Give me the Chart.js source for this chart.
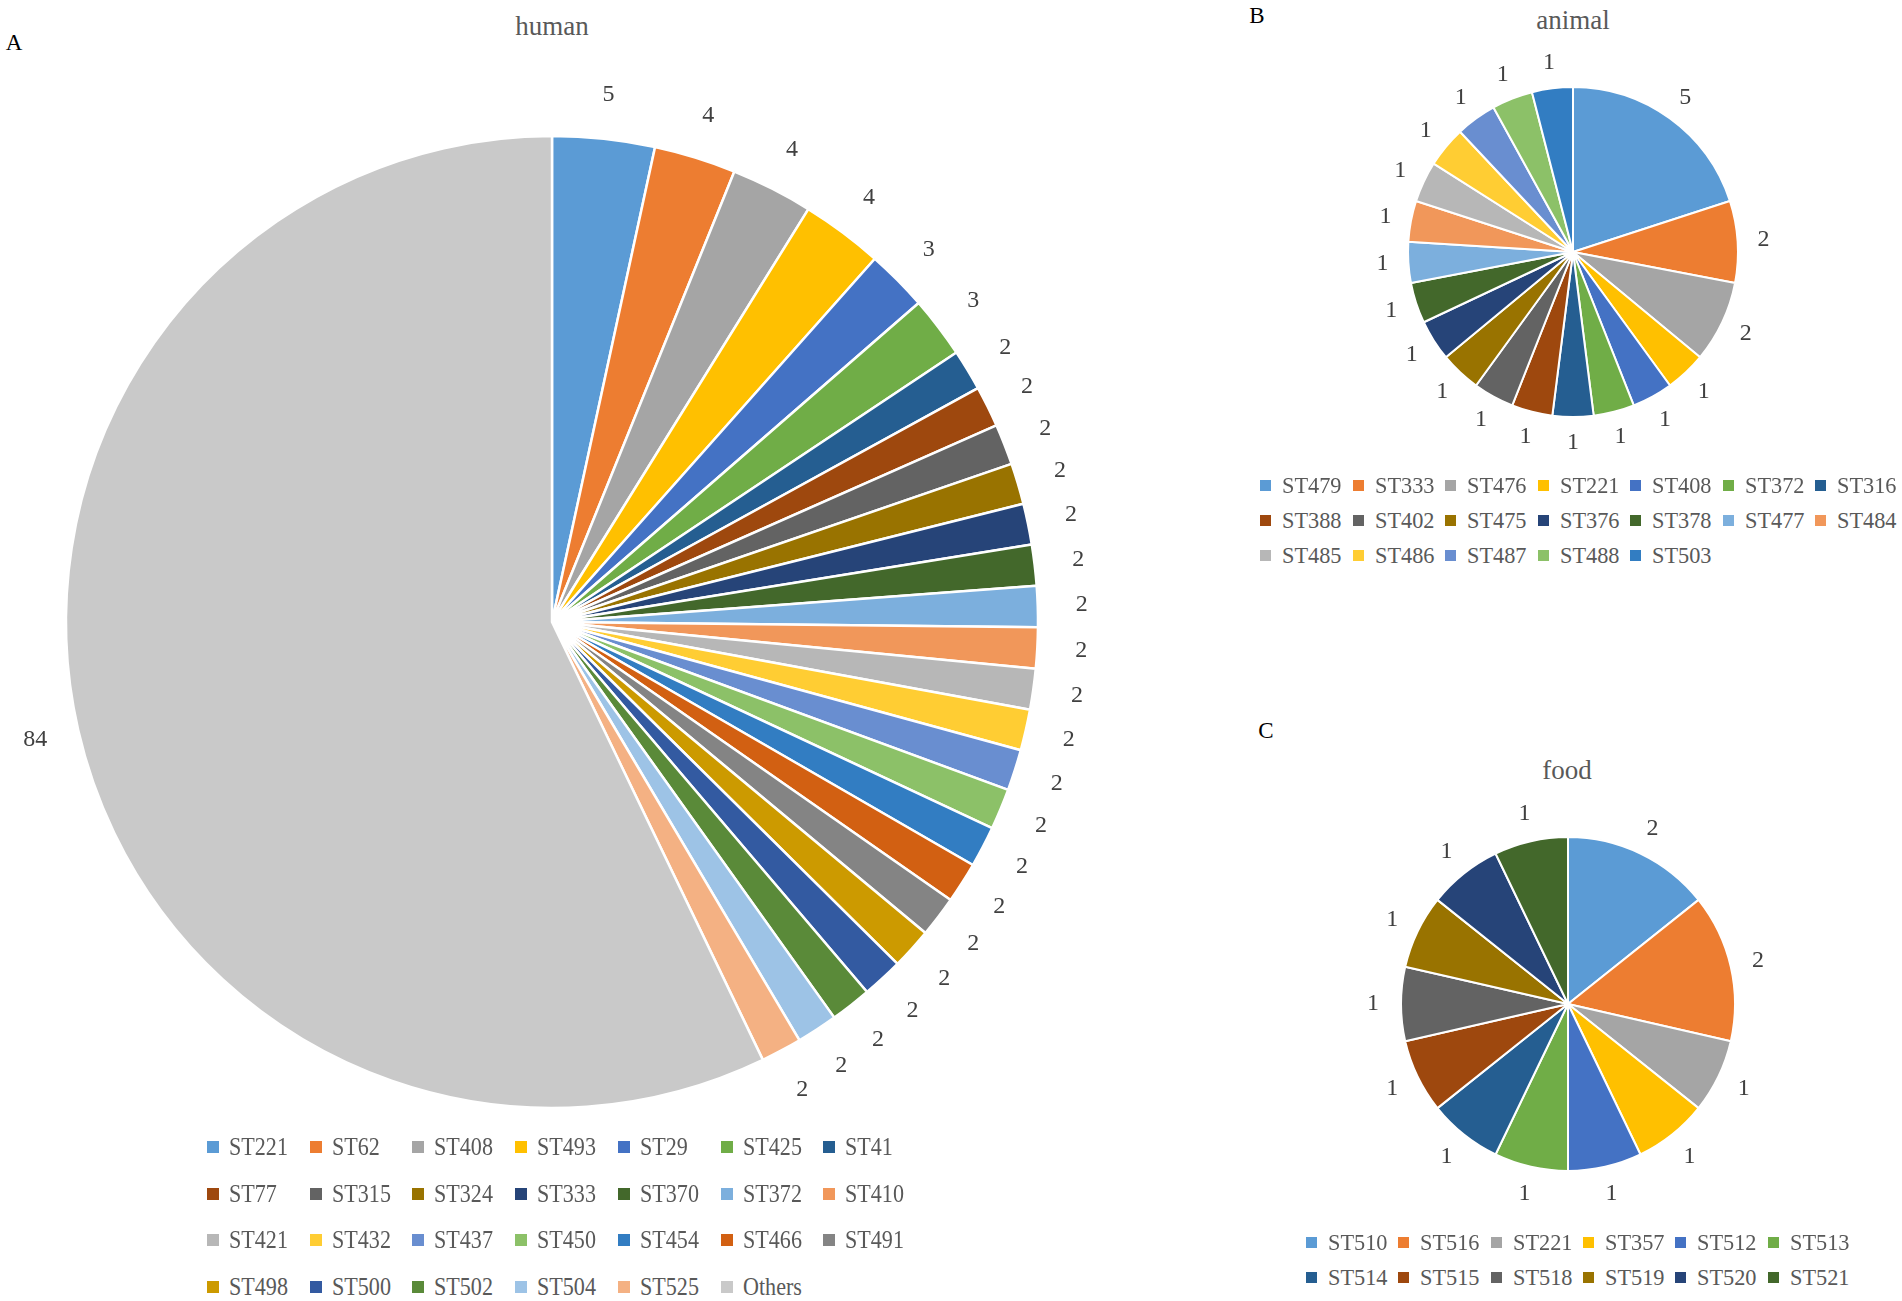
<!DOCTYPE html>
<html><head><meta charset="utf-8">
<script src="https://cdn.jsdelivr.net/npm/chart.js@4.4.0/dist/chart.umd.min.js"></script>
<style>
html,body{margin:0;padding:0;background:#fff;width:1902px;height:1301px;overflow:hidden;}
body,div,span{font-family:'Liberation Serif',serif;}
.txt{position:absolute;transform:translate(-50%,-50%);white-space:nowrap;line-height:1;}
.letter{font-size:23px;color:#000;}
.title{font-size:27px;color:#595959;}
.leg{position:absolute;color:#595959;white-space:nowrap;line-height:1;z-index:5;}
.leg i{position:absolute;left:0;}
.leg span{position:absolute;transform-origin:0 50%;}
canvas{position:absolute;}
</style></head><body>

<div class="txt letter" style="left:14px;top:42px">A</div>
<div class="txt letter" style="left:1257px;top:15px">B</div>
<div class="txt letter" style="left:1266px;top:730px">C</div>
<div class="txt title" style="left:552px;top:26px">human</div>
<div class="txt title" style="left:1573px;top:20px">animal</div>
<div class="txt title" style="left:1567px;top:770px">food</div>

<canvas id="cHuman" width="1104" height="1244" style="left:0px;top:0px;width:1104px;height:1244px"></canvas>
<canvas id="cAnimal" width="600" height="504" style="left:1273px;top:0px;width:600px;height:504px"></canvas>
<canvas id="cFood" width="600" height="500" style="left:1268px;top:754px;width:600px;height:500px"></canvas>
<div id="legends"></div>

<script>
// ---- data ----
const humanLabels = ['ST221','ST62','ST408','ST493','ST29','ST425','ST41','ST77','ST315','ST324','ST333','ST370','ST372','ST410','ST421','ST432','ST437','ST450','ST454','ST466','ST491','ST498','ST500','ST502','ST504','ST525','Others'];
const humanValues = [5,4,4,4,3,3,2,2,2,2,2,2,2,2,2,2,2,2,2,2,2,2,2,2,2,2,84];

const animalLabels = ['ST479','ST333','ST476','ST221','ST408','ST372','ST316','ST388','ST402','ST475','ST376','ST378','ST477','ST484','ST485','ST486','ST487','ST488','ST503'];
const animalValues = [5,2,2,1,1,1,1,1,1,1,1,1,1,1,1,1,1,1,1];

const foodLabels = ['ST510','ST516','ST221','ST357','ST512','ST513','ST514','ST515','ST518','ST519','ST520','ST521'];
const foodValues = [2,2,1,1,1,1,1,1,1,1,1,1];

// ---- style ----
const palette = [
  '#5B9BD5','#ED7D31','#A5A5A5','#FFC000','#4472C4','#70AD47',
  '#255E91','#9E480E','#636363','#997300','#264478','#43682B',
  '#7CAFDD','#F1975A','#B7B7B7','#FFCD33','#698ED0','#8CC168',
  '#327DC2','#D26012','#848484','#CC9A00','#335AA1','#5A8A39',
  '#9DC3E6','#F4B183','#C9C9C9'
];

Chart.defaults.font.family = "'Liberation Serif', serif";

const outsideLabels = {
  id: 'outsideLabels',
  afterDatasetsDraw(chart, args, opts) {
    const ctx = chart.ctx;
    const meta = chart.getDatasetMeta(0);
    const data = chart.data.datasets[0].data;
    ctx.save();
    ctx.font = opts.size + "px 'Liberation Serif'";
    ctx.fillStyle = opts.color;
    ctx.textAlign = 'center';
    ctx.textBaseline = 'middle';
    meta.data.forEach((arc, i) => {
      const p = arc.getProps(['x','y','startAngle','endAngle','outerRadius'], true);
      const a = (p.startAngle + p.endAngle) / 2;
      const r = p.outerRadius + opts.offset;
      ctx.fillText(String(data[i]), p.x + Math.cos(a) * r, p.y + Math.sin(a) * r);
    });
    ctx.restore();
  }
};

function makePie(id, labels, values, radius, offset, fontSize, bw) {
  return new Chart(document.getElementById(id), {
    type: 'pie',
    data: {
      labels: labels,
      datasets: [{
        data: values,
        backgroundColor: palette.slice(0, values.length),
        borderColor: '#ffffff',
        borderWidth: bw,
        hoverOffset: 0,
        offset: 0,
        radius: radius
      }]
    },
    options: {
      responsive: false,
      animation: false,
      layout: { padding: 0 },
      plugins: {
        legend: { display: false },
        tooltip: { enabled: false },
        title: { display: false },
        outsideLabels: { size: fontSize, color: '#404040', offset: offset }
      }
    },
    plugins: [outsideLabels]
  });
}

const chH = makePie('cHuman', humanLabels, humanValues, 486, 44, 24, 2.5);
const chA = makePie('cAnimal', animalLabels, animalValues, 165, 26, 24, 2);
const chF = makePie('cFood', foodLabels, foodValues, 167, 28, 24, 2);

function buildLegend(chart, x0, colStep, cols, y0, rowStep, fs, sx, box) {
  const host = document.getElementById('legends');
  const lbls = chart.data.labels;
  const cols_ = chart.data.datasets[0].backgroundColor;
  lbls.forEach((l, i) => {
    const d = document.createElement('div');
    d.className = 'leg';
    d.style.left = (x0 + (i % cols) * colStep) + 'px';
    d.style.top = (y0 + Math.floor(i / cols) * rowStep) + 'px';
    d.style.fontSize = fs + 'px';
    const m = document.createElement('i');
    m.style.background = cols_[i];
    m.style.width = box + 'px';
    m.style.height = box + 'px';
    m.style.top = (-box / 2) + 'px';
    const s = document.createElement('span');
    s.textContent = l;
    s.style.left = '22px';
    s.style.top = (-fs / 2) + 'px';
    s.style.transform = 'scaleX(' + sx + ')';
    d.appendChild(m); d.appendChild(s);
    host.appendChild(d);
  });
}
buildLegend(chH, 207, 102.7, 7, 1147, 46.7, 26, 0.85, 12);
buildLegend(chA, 1260, 92.5, 7, 485, 35.3, 23, 0.97, 11);
buildLegend(chF, 1306, 92.3, 6, 1242, 35, 23, 0.97, 11);
</script>
</body></html>
